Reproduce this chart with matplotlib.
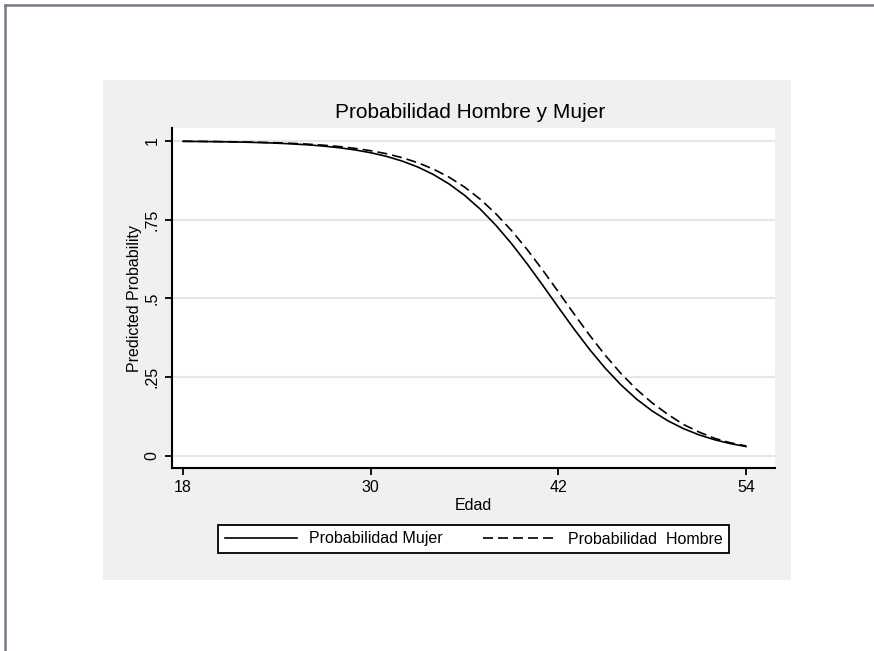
import matplotlib
matplotlib.use("Agg")
from matplotlib import pyplot as plt
from matplotlib.patches import Rectangle
from matplotlib.lines import Line2D

# edades y probabilidades predichas
edad = list(range(18, 55))
prob_mujer = [0.9987, 0.9982, 0.9976, 0.9969, 0.9959, 0.9946, 0.9928, 0.9905,
              0.9875, 0.9835, 0.9783, 0.9715, 0.9626, 0.9511, 0.9363, 0.9175,
              0.8936, 0.8639, 0.8275, 0.7838, 0.7326, 0.6744, 0.6102, 0.5419,
              0.4720, 0.4032, 0.3381, 0.2785, 0.2258, 0.1806, 0.1429, 0.1119,
              0.0869, 0.0671, 0.0515, 0.0394, 0.0301]
prob_hombre = [0.9989, 0.9985, 0.9981, 0.9974, 0.9966, 0.9955, 0.9941, 0.9922,
               0.9897, 0.9864, 0.9821, 0.9764, 0.9690, 0.9595, 0.9470, 0.9312,
               0.9108, 0.8853, 0.8537, 0.8152, 0.7692, 0.7158, 0.6557, 0.5900,
               0.5210, 0.4512, 0.3832, 0.3195, 0.2620, 0.2115, 0.1685, 0.1320,
               0.1000, 0.0760, 0.0560, 0.0420, 0.0320]

xticks = [18, 30, 42, 54]
yticks = [0, 0.25, 0.5, 0.75, 1]
ytick_labels = ['0', '.25', '.5', '.75', '1']

narrow = ['Liberation Sans Narrow', 'Liberation Sans', 'DejaVu Sans']
W, H = 874, 651

fig = plt.figure(figsize=(W / 100, H / 100), dpi=100)
fig.patch.set_facecolor('white')

# panel gris de fondo
fig.patches.append(Rectangle((103 / W, 1 - 580 / H), (791 - 103) / W, (580 - 80) / H,
                             transform=fig.transFigure, facecolor='#f0f0f0',
                             edgecolor='none', zorder=-10))
# bordes superior e izquierdo
fig.lines.append(Line2D([5 / W, 5 / W], [0, 1 - 5 / H], transform=fig.transFigure,
                        color='#77778a', lw=1.8))
fig.lines.append(Line2D([5 / W, 1], [1 - 5 / H, 1 - 5 / H], transform=fig.transFigure,
                        color='#77778a', lw=1.8))

ax = fig.add_axes([172 / W, 1 - 468 / H, (775 - 172) / W, (468 - 128) / H])
ax.set_facecolor('white')

ax.plot(edad, prob_mujer, color='black', lw=1.2, label='Probabilidad Mujer')
ax.plot(edad, prob_hombre, color='black', lw=1.2, linestyle=(0, (6, 3)),
        label='Probabilidad  Hombre')

ax.set_xlim(17.30, 55.85)
ax.set_ylim(-0.038, 1.041)
ax.set_xticks(xticks)
ax.set_yticks(yticks)
ax.set_yticklabels(ytick_labels, rotation=90, va='center')
ax.grid(axis='y', color='#e6e6e6', lw=1.5)
ax.set_axisbelow(True)

for s in ['top', 'right']:
    ax.spines[s].set_visible(False)
for s in ['left', 'bottom']:
    ax.spines[s].set_linewidth(1.5)
ax.tick_params(direction='out', length=5, width=1.3, pad=4)
for lab in ax.get_xticklabels() + ax.get_yticklabels():
    lab.set_family(narrow)
    lab.set_fontsize(11.5)

ax.set_xlabel('Edad', family=narrow, fontsize=11.5, labelpad=2)
ax.set_ylabel('Predicted Probability', family=narrow, fontsize=11.5, labelpad=2)

fig.text(470 / W, 1 - 113 / H, 'Probabilidad Hombre y Mujer', ha='center', va='center',
         family=['Liberation Sans', 'DejaVu Sans'], fontsize=15)

leg = fig.legend(loc='center', bbox_to_anchor=(473.5 / W, 1 - 539 / H), ncol=2,
                 frameon=True, fancybox=False, edgecolor='black', facecolor='white',
                 framealpha=1, prop={'family': narrow, 'size': 11.5},
                 handlelength=4.5, columnspacing=2.5, borderpad=0.4)
leg.get_frame().set_linewidth(1.3)

fig.savefig('out.png', dpi=100, facecolor='white')
